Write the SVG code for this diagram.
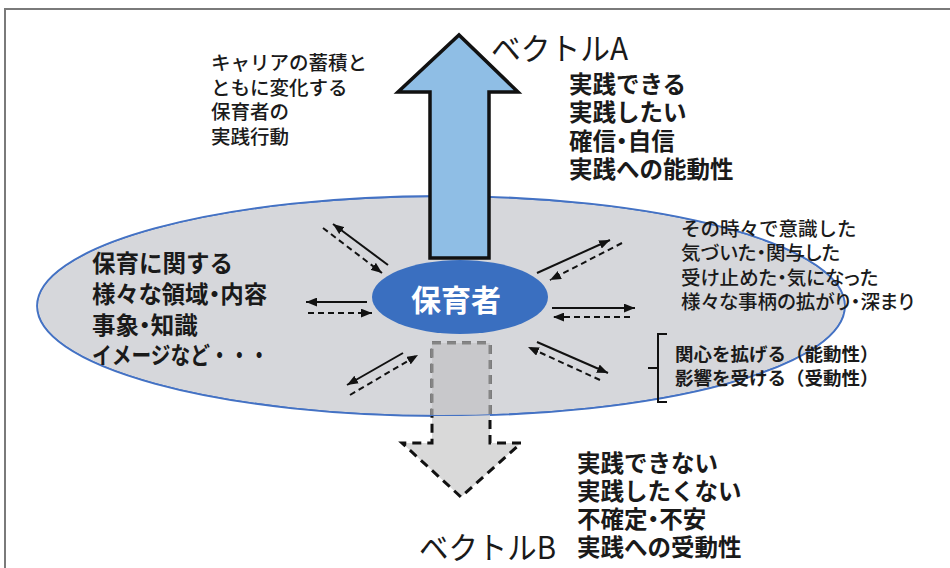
<svg xmlns="http://www.w3.org/2000/svg" width="950" height="568" viewBox="0 0 950 568">
<style>
.g{font-family:"Noto Sans CJK JP","Noto Sans",sans-serif;fill:#1a1a1a}
.r{font-size:19.5px;font-weight:500}
.b{font-size:23.5px;font-weight:700}
.s{font-size:18.5px;font-weight:700}
.v{font-size:31px;font-weight:400}
.p{font-feature-settings:"palt" 1}
.ln{stroke:#111;stroke-width:2;fill:none}
.ds{stroke-dasharray:6 4}
</style>
<defs>
<marker id="ah" viewBox="0 0 10 8" refX="10" refY="4" markerWidth="5.5" markerHeight="4.5" orient="auto">
<path d="M0,0 L10,4 L0,8 z" fill="#111"/>
</marker>
<clipPath id="inE"><ellipse cx="441" cy="306" rx="404" ry="110"/></clipPath>
<path id="downArrow" d="M432,343 H490 V443 H521 L461,497 L402,443 H432 Z"/>
</defs>
<rect x="5" y="9" width="980" height="600" fill="#fff" stroke="#7a7a7a" stroke-width="2"/>
<g id="field">
<ellipse cx="441" cy="306" rx="404" ry="110" fill="#d6d7db" stroke="#4472c4" stroke-width="1.8"/>
</g>
<g id="vectorB-arrow">
<use href="#downArrow" fill="#d9d9d9" stroke="#111" stroke-width="3" stroke-dasharray="9 6"/>
<use href="#downArrow" clip-path="url(#inE)" fill="#c8c8cb" stroke="#858585" stroke-width="3" stroke-dasharray="9 6"/>
<ellipse cx="441" cy="306" rx="404" ry="110" fill="none" stroke="#4472c4" stroke-width="1.8" clip-path="url(#inE)"/>
</g>
<g id="vectorA-arrow">
<path d="M430,258 V92 H398 L459,35 L518,92 H489 V258 Z" fill="#8fbee5" stroke="#111" stroke-width="3.5" stroke-linejoin="miter"/>
</g>
<g id="hoikusha">
<ellipse cx="460" cy="297" rx="88" ry="37" fill="#3a6fc0"/>
<text x="456" y="311" text-anchor="middle" font-family="'Noto Sans CJK JP',sans-serif" font-size="30" font-weight="700" fill="#fff">保育者</text>
</g>
<g id="connectors">
<line class="ln" x1="388" y1="265" x2="333" y2="224" marker-end="url(#ah)"/>
<line class="ln ds" x1="323" y1="228" x2="382" y2="273" marker-end="url(#ah)"/>
<line class="ln" x1="367" y1="302" x2="306" y2="302" marker-end="url(#ah)"/>
<line class="ln ds" x1="308" y1="313" x2="372" y2="313" marker-end="url(#ah)"/>
<line class="ln" x1="403" y1="353" x2="347" y2="385" marker-end="url(#ah)"/>
<line class="ln ds" x1="350" y1="395" x2="418" y2="355" marker-end="url(#ah)"/>
<line class="ln" x1="537" y1="273" x2="610" y2="240" marker-end="url(#ah)"/>
<line class="ln ds" x1="622" y1="243" x2="550" y2="280" marker-end="url(#ah)"/>
<line class="ln" x1="552" y1="308" x2="635" y2="308" marker-end="url(#ah)"/>
<line class="ln ds" x1="630" y1="317" x2="553" y2="317" marker-end="url(#ah)"/>
<line class="ln" x1="537" y1="342" x2="608" y2="373" marker-end="url(#ah)"/>
<line class="ln ds" x1="600" y1="380" x2="528" y2="347" marker-end="url(#ah)"/>
</g>
<g id="career-text" class="g r">
<text x="211" y="70">キャリアの蓄積と</text>
<text x="211" y="95">ともに変化する</text>
<text x="211" y="119">保育者の</text>
<text x="211" y="144">実践行動</text>
</g>
<g id="vectorA-label" class="g v">
<text x="491" y="60" textLength="137" lengthAdjust="spacingAndGlyphs">ベクトルA</text>
</g>
<g id="positive-text" class="g b">
<text x="569" y="93">実践できる</text>
<text x="569" y="121">実践したい</text>
<text x="569" y="150" class="p">確信・自信</text>
<text x="569" y="178">実践への能動性</text>
</g>
<g id="domain-text" class="g b">
<text x="92" y="272">保育に関する</text>
<text x="92" y="303" class="p">様々な領域・内容</text>
<text x="92" y="334" class="p">事象・知識</text>
<text x="92" y="364" textLength="177" lengthAdjust="spacingAndGlyphs">イメージなど・・・</text>
</g>
<g id="awareness-text" class="g r">
<text x="681" y="236">その時々で意識した</text>
<text x="681" y="260" class="p">気づいた・関与した</text>
<text x="681" y="285" class="p">受け止めた・気になった</text>
<text x="681" y="309" class="p">様々な事柄の拡がり・深まり</text>
</g>
<g id="bracket">
<path d="M667,334 H658 V402 H667 M658,368 H648" fill="none" stroke="#111" stroke-width="2"/>
</g>
<g id="bracket-text" class="g s">
<text x="675" y="361">関心を拡げる（能動性）</text>
<text x="675" y="385">影響を受ける（受動性）</text>
</g>
<g id="negative-text" class="g b">
<text x="577" y="472">実践できない</text>
<text x="577" y="500">実践したくない</text>
<text x="577" y="528" class="p">不確定・不安</text>
<text x="577" y="556">実践への受動性</text>
</g>
<g id="vectorB-label" class="g v">
<text x="419" y="559" textLength="137" lengthAdjust="spacingAndGlyphs">ベクトルB</text>
</g>
</svg>
